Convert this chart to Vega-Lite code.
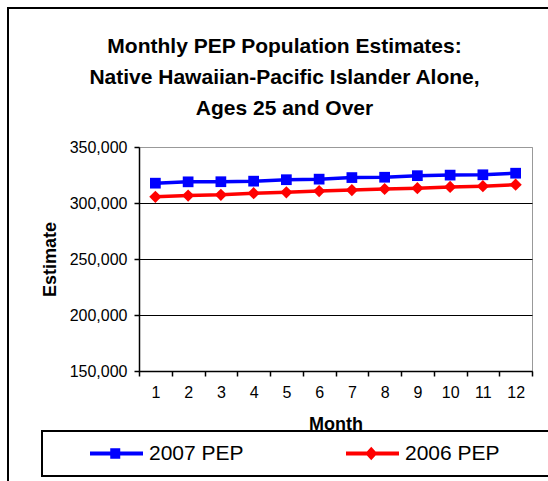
{
  "$schema": "https://vega.github.io/schema/vega-lite/v6.json",
  "autosize": "none",
  "padding": {"left": 139, "top": 147, "right": 16, "bottom": 110},
  "width": 393,
  "height": 224,
  "background": "white",
  "title": {
    "text": ["Monthly PEP Population Estimates:", "Native Hawaiian-Pacific Islander Alone,", "Ages 25 and Over"],
    "font": "Liberation Sans",
    "fontSize": 21,
    "fontWeight": "bold",
    "lineHeight": 31,
    "color": "black",
    "anchor": "middle",
    "frame": "group",
    "dx": -51,
    "offset": -112
  },
  "data": {
    "values": [
      {"month": 1, "series": "2007 PEP", "value": 317700},
      {"month": 2, "series": "2007 PEP", "value": 318900},
      {"month": 3, "series": "2007 PEP", "value": 319000},
      {"month": 4, "series": "2007 PEP", "value": 319500},
      {"month": 5, "series": "2007 PEP", "value": 320800},
      {"month": 6, "series": "2007 PEP", "value": 321300},
      {"month": 7, "series": "2007 PEP", "value": 322700},
      {"month": 8, "series": "2007 PEP", "value": 323000},
      {"month": 9, "series": "2007 PEP", "value": 324400},
      {"month": 10, "series": "2007 PEP", "value": 324900},
      {"month": 11, "series": "2007 PEP", "value": 325200},
      {"month": 12, "series": "2007 PEP", "value": 326600},
      {"month": 1, "series": "2006 PEP", "value": 305500},
      {"month": 2, "series": "2006 PEP", "value": 306600},
      {"month": 3, "series": "2006 PEP", "value": 307300},
      {"month": 4, "series": "2006 PEP", "value": 308800},
      {"month": 5, "series": "2006 PEP", "value": 309500},
      {"month": 6, "series": "2006 PEP", "value": 310700},
      {"month": 7, "series": "2006 PEP", "value": 311500},
      {"month": 8, "series": "2006 PEP", "value": 312500},
      {"month": 9, "series": "2006 PEP", "value": 313200},
      {"month": 10, "series": "2006 PEP", "value": 314300},
      {"month": 11, "series": "2006 PEP", "value": 315000},
      {"month": 12, "series": "2006 PEP", "value": 316300}
    ]
  },
  "encoding": {
    "x": {
      "field": "month",
      "type": "ordinal",
      "scale": {"type": "band", "paddingInner": 0, "paddingOuter": 0},
      "axis": {
        "title": "Month",
        "labelAngle": 0,
        "tickBand": "extent",
        "tickSize": 5,
        "labelPadding": 8,
        "titlePadding": 15,
        "grid": false
      }
    },
    "y": {
      "field": "value",
      "type": "quantitative",
      "scale": {"domain": [150000, 350000], "nice": false, "zero": false},
      "axis": {
        "title": "Estimate",
        "values": [150000, 200000, 250000, 300000, 350000],
        "format": ",.0f",
        "tickSize": 5,
        "labelPadding": 7,
        "titlePadding": 10,
        "grid": true,
        "gridColor": {"condition": {"test": "datum.value === 350000", "value": "#999999"}, "value": "black"}
      }
    },
    "color": {
      "field": "series",
      "type": "nominal",
      "scale": {"domain": ["2007 PEP", "2006 PEP"], "range": ["#0000ff", "#ff0000"]},
      "legend": null
    }
  },
  "layer": [
    {
      "mark": {"type": "point", "filled": true, "opacity": 0},
      "encoding": {
        "color": {
          "field": "series",
          "type": "nominal",
          "scale": {"domain": ["2007 PEP", "2006 PEP"], "range": ["#0000ff", "#ff0000"]},
          "legend": {
            "title": null,
            "orient": "none",
            "legendX": -97,
            "legendY": 284,
            "direction": "horizontal",
            "columns": 2,
            "columnPadding": 64,
            "symbolOpacity": 1,
            "labelExpr": "datum.label == '2006 PEP' ? datum.label + '\u00a0\u00a0\u00a0\u00a0\u00a0\u00a0\u00a0\u2009\u200b' : datum.label"
          }
        },
        "shape": {
          "field": "series",
          "type": "nominal",
          "scale": {
            "domain": ["2007 PEP", "2006 PEP"],
            "range": [
              "M-0.165,-0.044H1V0.044H-0.165Z M0.28,-0.115H0.5V0.115H0.28Z",
              "M-0.165,-0.044H1V0.044H-0.165Z M0.39,-0.15L0.525,0L0.39,0.15L0.255,0Z"
            ]
          },
          "legend": {
            "title": null,
            "orient": "none",
            "legendX": -97,
            "legendY": 284,
            "direction": "horizontal",
            "columns": 2,
            "columnPadding": 64,
            "symbolOpacity": 1,
            "labelExpr": "datum.label == '2006 PEP' ? datum.label + '\u00a0\u00a0\u00a0\u00a0\u00a0\u00a0\u00a0\u2009\u200b' : datum.label"
          }
        },
        "size": {
          "field": "month",
          "type": "quantitative",
          "legend": {
            "title": null,
            "orient": "none",
            "legendX": -131,
            "legendY": -139,
            "values": [1],
            "labelExpr": "''",
            "symbolOpacity": 0,
            "padding": 275,
            "fillColor": "transparent",
            "strokeColor": "black"
          }
        }
      }
    },
    {
      "mark": {"type": "line", "strokeWidth": 3.5}
    },
    {
      "transform": [{"filter": "datum.series === '2007 PEP'"}],
      "mark": {"type": "point", "shape": "square", "filled": true, "size": 115, "opacity": 1}
    },
    {
      "transform": [{"filter": "datum.series === '2006 PEP'"}],
      "mark": {"type": "point", "shape": "diamond", "filled": true, "size": 150, "opacity": 1}
    }
  ],
  "config": {
    "view": {"stroke": "#999999", "strokeWidth": 1},
    "axis": {
      "labelFont": "Liberation Sans",
      "labelFontSize": 16,
      "labelColor": "black",
      "titleFont": "Liberation Sans",
      "titleFontSize": 18,
      "titleFontWeight": "bold",
      "titleColor": "black",
      "domainColor": "black",
      "domainWidth": 1.5,
      "tickColor": "black",
      "tickWidth": 1.5,
      "gridWidth": 1
    },
    "legend": {
      "labelFont": "Liberation Sans",
      "labelFontSize": 21,
      "labelColor": "black",
      "labelOffset": 6,
      "symbolSize": 8281,
      "symbolStrokeWidth": 0,
      "symbolOpacity": 1,
      "clipHeight": 25,
      "padding": 10,
      "strokeColor": "black",
      "strokeWidth": 2,
      "fillColor": "white",
      "labelLimit": 400
    }
  }
}
